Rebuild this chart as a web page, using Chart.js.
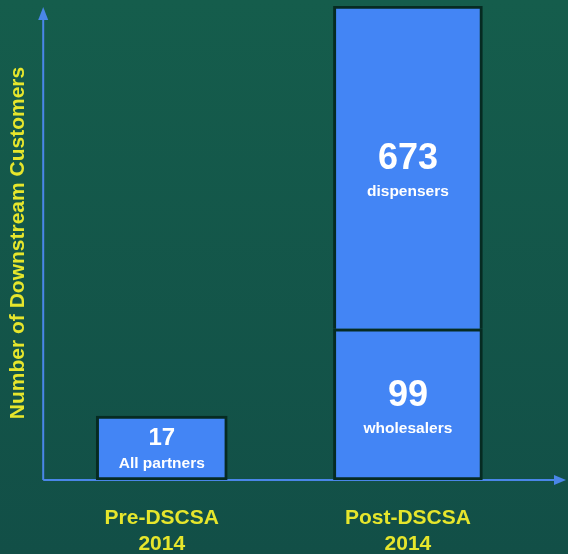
<!DOCTYPE html>
<html>
<head>
<meta charset="utf-8">
<script src="https://cdn.jsdelivr.net/npm/chart.js@4.4.0/dist/chart.umd.min.js"></script>
<style>
  body { margin: 0; background: #13574a; }
  canvas { display: block; }
</style>
</head>
<body>
<canvas id="myCustomerChart" width="568" height="554"></canvas>
<script>
// categories (two lines each)
const periods = [["Pre-DSCSA", "2014"], ["Post-DSCSA", "2014"]];

// customer counts shown in the bars
const partnerCounts = [17, null];
const wholesalerCounts = [null, 99];
const dispenserCounts = [null, 673];
const segmentNames = ["All partners", "wholesalers", "dispensers"];

// bar heights on the unlabelled y axis (0-100)
const partnerHeights = [13.5, null];
const wholesalerHeights = [null, 31.9];
const dispenserHeights = [null, 68.1];

const barBlue = "#4385f5";
const barEdge = "#062b22";
const axisBlue = "#4a86e8";
const yellow = "#e6e62c";

const background = {
  id: "background",
  beforeDraw(chart) {
    const c = chart.ctx;
    const g = c.createLinearGradient(0, 0, 0, chart.height);
    g.addColorStop(0, "#155d4c");
    g.addColorStop(1, "#124f47");
    c.save();
    c.fillStyle = g;
    c.fillRect(0, 0, chart.width, chart.height);
    c.restore();
  }
};

const arrowAxes = {
  id: "arrowAxes",
  beforeDatasetsDraw(chart) {
    const c = chart.ctx;
    const a = chart.chartArea;
    const x0 = a.left + 4.5;
    const y0 = a.bottom;
    c.save();
    c.strokeStyle = axisBlue;
    c.fillStyle = axisBlue;
    c.lineWidth = 2;
    // y axis
    c.beginPath();
    c.moveTo(x0, y0);
    c.lineTo(x0, a.top + 10);
    c.stroke();
    c.beginPath();
    c.moveTo(x0, a.top + 1);
    c.lineTo(x0 - 5, a.top + 14);
    c.lineTo(x0 + 5, a.top + 14);
    c.closePath();
    c.fill();
    // x axis
    const xEnd = chart.width - 2;
    c.beginPath();
    c.moveTo(x0, y0);
    c.lineTo(xEnd - 8, y0);
    c.stroke();
    c.beginPath();
    c.moveTo(xEnd, y0);
    c.lineTo(xEnd - 12, y0 - 5);
    c.lineTo(xEnd - 12, y0 + 5);
    c.closePath();
    c.fill();
    c.restore();
  }
};

const barText = {
  id: "barText",
  afterDatasetsDraw(chart) {
    const c = chart.ctx;
    const counts = [partnerCounts, wholesalerCounts, dispenserCounts];
    const big = [24, 36, 36];
    const gap = [16, 24, 24];
    c.save();
    c.fillStyle = "#ffffff";
    c.textAlign = "center";
    c.textBaseline = "middle";
    counts.forEach((arr, di) => {
      const meta = chart.getDatasetMeta(di);
      arr.forEach((v, i) => {
        if (v === null) return;
        const bar = meta.data[i];
        const cy = (bar.y + bar.base) / 2;
        c.font = "bold " + big[di] + "px 'Liberation Sans', Arial, sans-serif";
        c.fillText(String(v), bar.x, cy - (di === 0 ? 10 : 8));
        c.font = "bold 15.5px 'Liberation Sans', Arial, sans-serif";
        c.fillText(segmentNames[di], bar.x, cy + gap[di]);
      });
    });
    c.restore();
  }
};

new Chart(document.getElementById("myCustomerChart").getContext("2d"), {
  type: "bar",
  data: {
    labels: periods,
    datasets: [
      {
        label: "All partners",
        data: partnerHeights,
        backgroundColor: barBlue,
        borderColor: barEdge,
        borderWidth: 3,
        borderSkipped: false,
        barThickness: 131,
      },
      {
        label: "Wholesalers",
        data: wholesalerHeights,
        backgroundColor: barBlue,
        borderColor: barEdge,
        borderWidth: 3,
        borderSkipped: false,
        barThickness: 149,
      },
      {
        label: "Dispensers",
        data: dispenserHeights,
        backgroundColor: barBlue,
        borderColor: barEdge,
        borderWidth: 3,
        borderSkipped: "bottom",
        barThickness: 149,
      },
    ],
  },
  options: {
    responsive: false,
    animation: false,
    layout: {
      padding: { left: 0, top: 6, right: 37, bottom: 0 }
    },
    plugins: {
      legend: { display: false },
      tooltip: { enabled: false }
    },
    scales: {
      x: {
        stacked: true,
        grid: { display: false, drawTicks: false },
        border: { display: false },
        afterFit(scale) { scale.height = 74; },
        ticks: {
          color: yellow,
          padding: 26,
          font: { family: "'Liberation Sans', Arial, sans-serif", size: 21, weight: "bold", lineHeight: 1.2 }
        }
      },
      y: {
        stacked: true,
        min: 0,
        max: 100,
        grid: { display: false, drawTicks: false },
        border: { display: false },
        ticks: { display: false },
        title: {
          display: true,
          text: "Number of Downstream Customers",
          color: yellow,
          padding: { top: 6, bottom: 7.5 },
          font: { family: "'Liberation Sans', Arial, sans-serif", size: 21, weight: "bold" }
        }
      }
    }
  },
  plugins: [background, arrowAxes, barText]
});
</script>
</body>
</html>
